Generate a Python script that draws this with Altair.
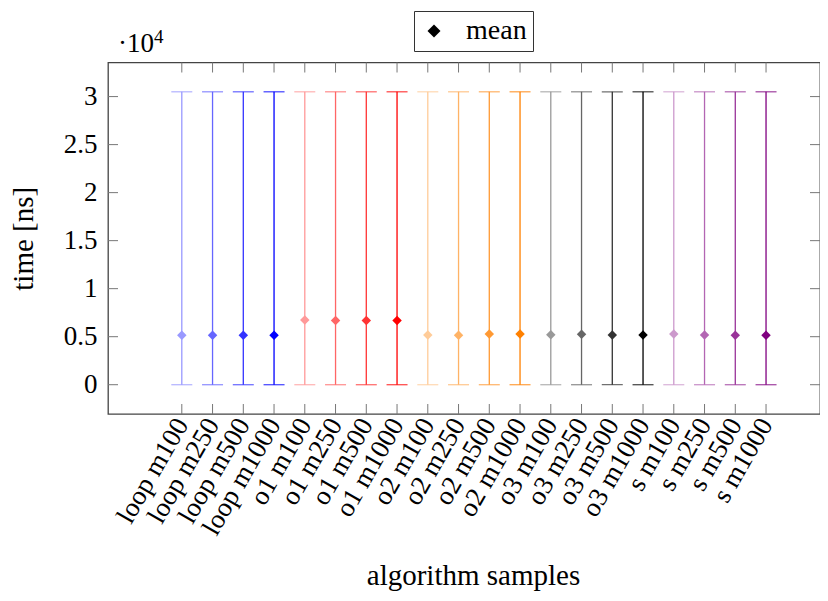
import altair as alt
import pandas as pd

categories = [
    "loop m100", "loop m250", "loop m500", "loop m1000",
    "o1 m100", "o1 m250", "o1 m500", "o1 m1000",
    "o2 m100", "o2 m250", "o2 m500", "o2 m1000",
    "o3 m100", "o3 m250", "o3 m500", "o3 m1000",
    "s m100", "s m250", "s m500", "s m1000",
]
colors = [
    "#9999ff", "#6666ff", "#3333ff", "#0000ff",
    "#ff9999", "#ff6666", "#ff3333", "#ff0000",
    "#ffcc99", "#ffb366", "#ff9933", "#ff8000",
    "#999999", "#666666", "#333333", "#000000",
    "#cc99cc", "#b366b3", "#993399", "#800080",
]
means = [
    5140, 5140, 5150, 5140,
    6750, 6680, 6690, 6690,
    5180, 5150, 5290, 5290,
    5210, 5250, 5180, 5180,
    5290, 5180, 5150, 5150,
]
lows = [0] * 20
highs = [30500] * 20
y_tick_values = [0, 5000, 10000, 15000, 20000, 25000, 30000]
legend_text = ["mean"]
exponent_base = ["\u00b710"]
exponent_power = ["4"]

FONT = "Liberation Serif"
W, H = 712, 351.5

idx = list(range(len(categories)))
df = pd.DataFrame({
    "idx": idx, "cat": categories, "color": colors,
    "mean": means, "lo": lows, "hi": highs,
    "stat": legend_text * len(categories),
})
ydf = pd.DataFrame({"v": y_tick_values})

xscale = alt.Scale(domain=[-2.4, 20.755], nice=False, zero=False)
yscale = alt.Scale(domain=[-3050, 33550], nice=False, zero=False)

label_expr = "[" + ",".join("'%s'" % c for c in categories) + "][datum.value]"

x_axis = alt.Axis(
    values=idx, labelExpr=label_expr, labelAngle=-60, labelAlign="right",
    labelBaseline="middle", labelPadding=6, labelFontSize=27, labelFont=FONT,
    labelColor="black", labelOverlap=False, labelLimit=0, labelFlush=False,
    ticks=False, domain=False, grid=False,
    title="algorithm samples", titleFontSize=29, titleFont=FONT,
    titleFontWeight="normal", titleColor="black",
    titleX=365, titleY=170, titleBaseline="alphabetic",
)
y_axis = alt.Axis(
    values=y_tick_values, labelExpr="datum.value / 10000 + ''",
    labelFontSize=27, labelFont=FONT, labelColor="black", labelPadding=11,
    ticks=False, domain=False, grid=False,
    title="time [ns]", titleFontSize=29, titleFont=FONT,
    titleFontWeight="normal", titleColor="black",
    titleX=-76, titleY=H / 2, titleAngle=-90, titleBaseline="alphabetic",
)

X = lambda f: alt.X(f, scale=xscale, axis=x_axis)
Y = lambda f: alt.Y(f, scale=yscale, axis=y_axis)

base = alt.Chart(df)
col = alt.Color("color:N", scale=None)

whiskers = base.mark_rule(strokeWidth=1.3).encode(
    x=X("idx:Q"), y=Y("lo:Q"), y2="hi:Q", color=col,
)
caps_lo = base.mark_tick(orient="horizontal", size=21, thickness=1.3).encode(
    x=X("idx:Q"), y=Y("lo:Q"), color=col,
)
caps_hi = base.mark_tick(orient="horizontal", size=21, thickness=1.3).encode(
    x=X("idx:Q"), y=Y("hi:Q"), color=col,
)
points = base.mark_point(filled=True, size=90, opacity=1).encode(
    x=X("idx:Q"), y=Y("mean:Q"),
    color=col,
    shape=alt.Shape(
        "stat:N", scale=alt.Scale(range=["diamond"]),
        legend=alt.Legend(
            title=None, orient="none", legendX=306, legendY=-51.5,
            padding=6, strokeColor="#333", fillColor="white", cornerRadius=0,
            labelFont=FONT, labelFontSize=28, labelColor="black",
            labelOffset=18, symbolFillColor="black", symbolStrokeColor="black",
            symbolStrokeWidth=0, symbolSize=170, symbolType="diamond",
        ),
    ),
)

tick_style = dict(color="#777", strokeWidth=1)
ticks_bottom = alt.Chart(df).mark_rule(**tick_style).encode(
    x=X("idx:Q"), y=alt.value(H), y2=alt.value(H - 10)
)
ticks_top = alt.Chart(df).mark_rule(**tick_style).encode(
    x=X("idx:Q"), y=alt.value(0), y2=alt.value(10)
)
ticks_left = alt.Chart(ydf).mark_rule(**tick_style).encode(
    y=Y("v:Q"), x=alt.value(0), x2=alt.value(10)
)
ticks_right = alt.Chart(ydf).mark_rule(**tick_style).encode(
    y=Y("v:Q"), x=alt.value(W - 10), x2=alt.value(W)
)

exp_base = alt.Chart(pd.DataFrame({"t": exponent_base})).mark_text(
    align="left", baseline="alphabetic", font=FONT, fontSize=27, color="black"
).encode(text="t:N", x=alt.value(10), y=alt.value(-10.5))
exp_pow = alt.Chart(pd.DataFrame({"t": exponent_power})).mark_text(
    align="left", baseline="alphabetic", font=FONT, fontSize=19, color="black"
).encode(text="t:N", x=alt.value(46), y=alt.value(-20))

chart = alt.layer(
    ticks_bottom, ticks_top, ticks_left, ticks_right,
    whiskers, caps_lo, caps_hi, points, exp_base, exp_pow,
).properties(
    width=W, height=H,
    autosize=alt.AutoSizeParams(type="none"),
    padding={"left": 100, "top": 54.5, "right": 0, "bottom": 179},
).configure_view(stroke="#444", strokeWidth=1.3)

chart.save("out.html", embed_options={"renderer": "svg", "actions": False})
